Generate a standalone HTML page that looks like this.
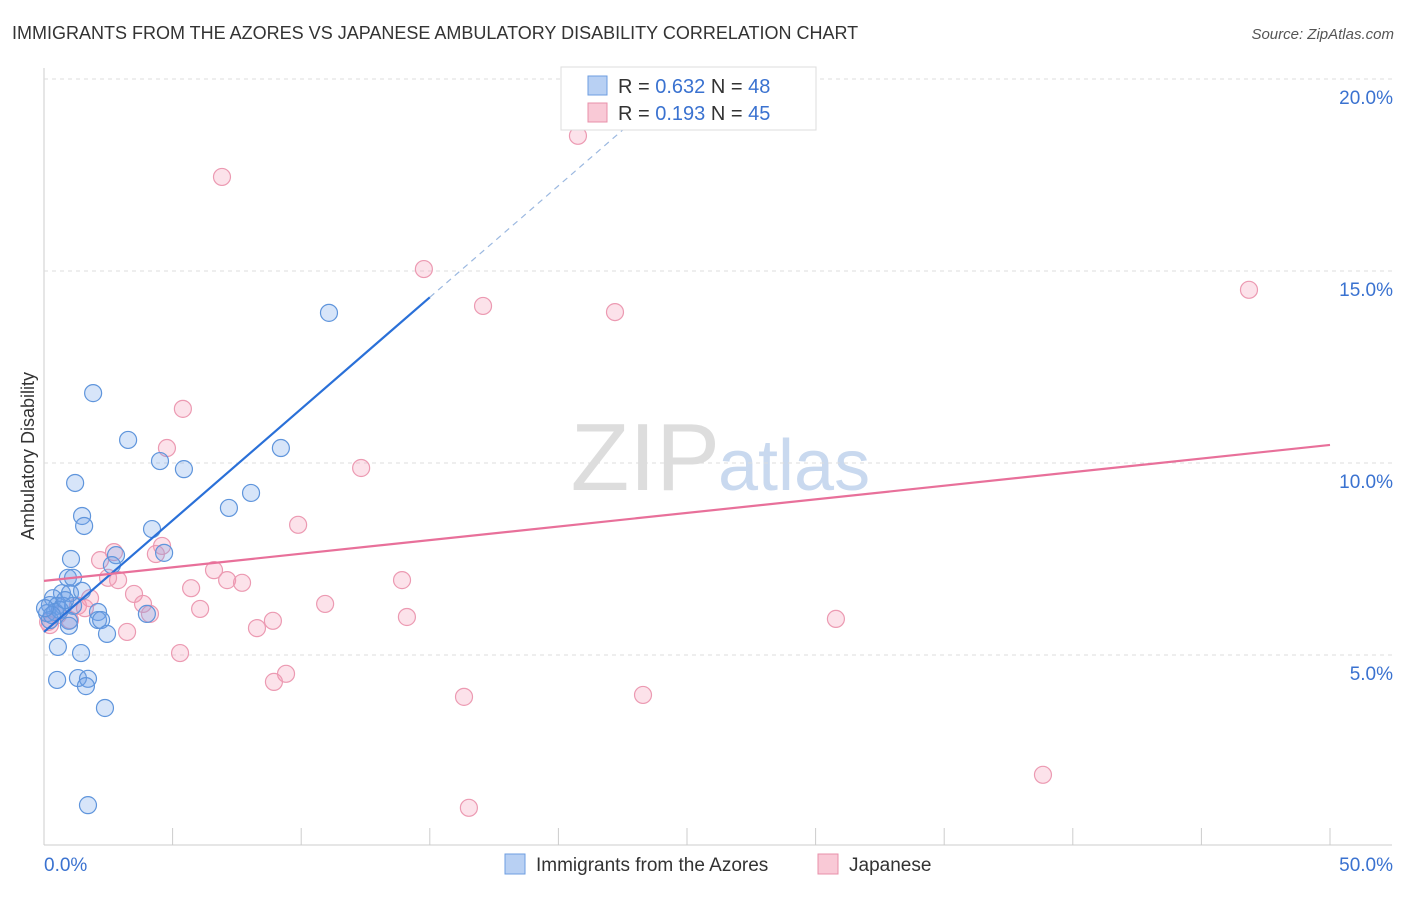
<!DOCTYPE html>
<html><head><meta charset="utf-8"><style>
body{margin:0;background:#fff;font-family:"Liberation Sans",sans-serif;}
svg text{font-family:"Liberation Sans",sans-serif;}
</style></head><body>
<svg id="c" width="1406" height="892" xmlns="http://www.w3.org/2000/svg">
<text x="12" y="39" font-size="18" fill="#333">IMMIGRANTS FROM THE AZORES VS JAPANESE AMBULATORY DISABILITY CORRELATION CHART</text>
<text x="1394" y="39" font-size="15" fill="#555" font-style="italic" text-anchor="end">Source: ZipAtlas.com</text>
<text x="720" y="490" font-size="96" fill="#ddd" text-anchor="end" font-family="Liberation Serif">ZIP</text>
<text x="718" y="490" font-size="72" fill="#c9d9ef">atlas</text>
<g id="grid"></g>
<g id="pts"></g>
<g id="lines"></g>
<text transform="translate(34,456) rotate(-90)" font-size="18" fill="#333" text-anchor="middle">Ambulatory Disability</text>
<g>
<rect x="561" y="67" width="255" height="63" fill="#fff" stroke="#ddd"/>
<rect x="588" y="76" width="19" height="19" fill="#b8d0f3" stroke="#6e9ee0"/>
<text x="618" y="93" font-size="20" fill="#333">R = <tspan fill="#3a72d0">0.632</tspan>   N = <tspan fill="#3a72d0">48</tspan></text>
<rect x="588" y="103" width="19" height="19" fill="#f9c9d6" stroke="#e890aa"/>
<text x="618" y="120" font-size="20" fill="#333">R =  <tspan fill="#3a72d0">0.193</tspan>   N = <tspan fill="#3a72d0">45</tspan></text>
</g>
<g>
<rect x="505" y="854" width="20" height="20" fill="#b8d0f3" stroke="#6e9ee0"/>
<text x="536" y="871" font-size="19" fill="#333">Immigrants from the Azores</text>
<rect x="818" y="854" width="20" height="20" fill="#f9c9d6" stroke="#e890aa"/>
<text x="849" y="871" font-size="19" fill="#333">Japanese</text>
</g>
</svg>
<script>
const xTicks=[0,5,10,15,20,25,30,35,40,45,50];
const yTicks=[5,10,15,20];
const azoresX=[1.91,3.27,4.51,5.44,1.21,1.48,1.56,4.20,7.19,8.05,9.21,11.08,1.05,2.80,4.67,2.64,0.93,1.13,0.70,1.01,1.48,0.35,0.23,0.51,0.74,1.13,0.12,0.43,2.10,2.10,2.22,0.97,0.97,4.00,2.45,0.54,1.44,0.51,1.32,1.71,1.63,2.37,1.71,0.23,0.62,0.82,0.31,0.04];
const azoresY=[11.82,10.60,10.05,9.84,9.48,8.62,8.36,8.28,8.83,9.22,10.39,13.91,7.50,7.60,7.66,7.34,7.01,7.01,6.61,6.61,6.67,6.48,6.30,6.28,6.28,6.28,6.09,6.12,6.12,5.91,5.91,5.89,5.76,6.07,5.55,5.21,5.05,4.35,4.40,4.38,4.19,3.62,1.09,5.91,6.17,6.43,6.04,6.22];
const japX=[20.76,6.92,14.77,17.07,22.20,46.85,5.40,4.78,12.33,9.88,2.72,2.18,4.59,4.35,2.88,2.49,6.61,7.12,7.70,5.72,3.50,3.85,6.07,4.12,1.79,1.32,13.92,10.93,14.11,30.79,8.90,8.28,3.23,5.29,9.41,8.94,16.33,23.29,38.84,16.52,0.23,1.01,0.54,1.59,0.16];
const japY=[18.52,17.45,15.05,14.09,13.93,14.51,11.41,10.39,9.87,8.39,7.68,7.47,7.84,7.63,6.95,7.01,7.21,6.95,6.88,6.74,6.59,6.33,6.20,6.07,6.48,6.28,6.95,6.33,5.99,5.94,5.89,5.70,5.60,5.05,4.51,4.30,3.91,3.96,1.88,1.02,5.78,5.91,6.04,6.22,5.86];
const azoresTrend=[5.6,0.581];
const japTrend=[6.93,0.0708];
const NS="http://www.w3.org/2000/svg";
const sx=v=>44+v*25.72, sy=v=>847-v*38.4;
function mk(t,a,p){const e=document.createElementNS(NS,t);for(const k in a)e.setAttribute(k,a[k]);if(p)p.appendChild(e);return e;}
const svg=document.getElementById('c'),grid=document.getElementById('grid'),pts=document.getElementById('pts'),lines=document.getElementById('lines');
mk('line',{x1:44,y1:68,x2:44,y2:845,stroke:'#ccc'},grid);
mk('line',{x1:44,y1:845,x2:1392,y2:845,stroke:'#ccc'},grid);
yTicks.forEach(v=>{
 const l=mk('line',{x1:44,x2:1392,y1:sy(v),y2:sy(v),stroke:'#ddd','stroke-dasharray':'4,4'},grid);
 
 
 const t=mk('text',{x:1393,y:sy(v)+25,'font-size':19,fill:'#3a72d0','text-anchor':'end'},grid);
 t.textContent=v.toFixed(1)+'%';
 
 
});
xTicks.forEach(v=>{
 const l=mk('line',{x1:sx(v),x2:sx(v),y1:828,y2:845,stroke:'#ccc'},grid);
 
 
});
[[0,'0.0%','start',44],[50,'50.0%','end',1393]].forEach(a=>{
 const t=mk('text',{x:a[3],y:871,'font-size':19,fill:'#3a72d0','text-anchor':a[2]},grid);
 t.textContent=a[1];
 
 
});
japX.forEach((x,i)=>{
 const c=mk('circle',{cx:sx(x),cy:sy(japY[i]),r:8.5,fill:'rgba(244,150,178,0.28)',stroke:'#ec9ab2','stroke-width':1.2},pts);
 
 
});
azoresX.forEach((x,i)=>{
 const c=mk('circle',{cx:sx(x),cy:sy(azoresY[i]),r:8.5,fill:'rgba(110,160,235,0.28)',stroke:'#5f95dc','stroke-width':1.2},pts);
 
 
});
const f=(t,x)=>t[0]+t[1]*x;
let l=mk('line',{x1:sx(0),y1:sy(f(azoresTrend,0)),x2:sx(15),y2:sy(f(azoresTrend,15)),stroke:'#2a70d8','stroke-width':2.2},lines);


l=mk('line',{x1:sx(15),y1:sy(f(azoresTrend,15)),x2:sx(23.5),y2:sy(f(azoresTrend,23.5)),stroke:'#9bb8e0','stroke-width':1.2,'stroke-dasharray':'6,5'},lines);


l=mk('line',{x1:sx(0),y1:sy(f(japTrend,0)),x2:sx(50),y2:sy(f(japTrend,50)),stroke:'#e8709a','stroke-width':2.2},lines);


</script>
</body></html>
